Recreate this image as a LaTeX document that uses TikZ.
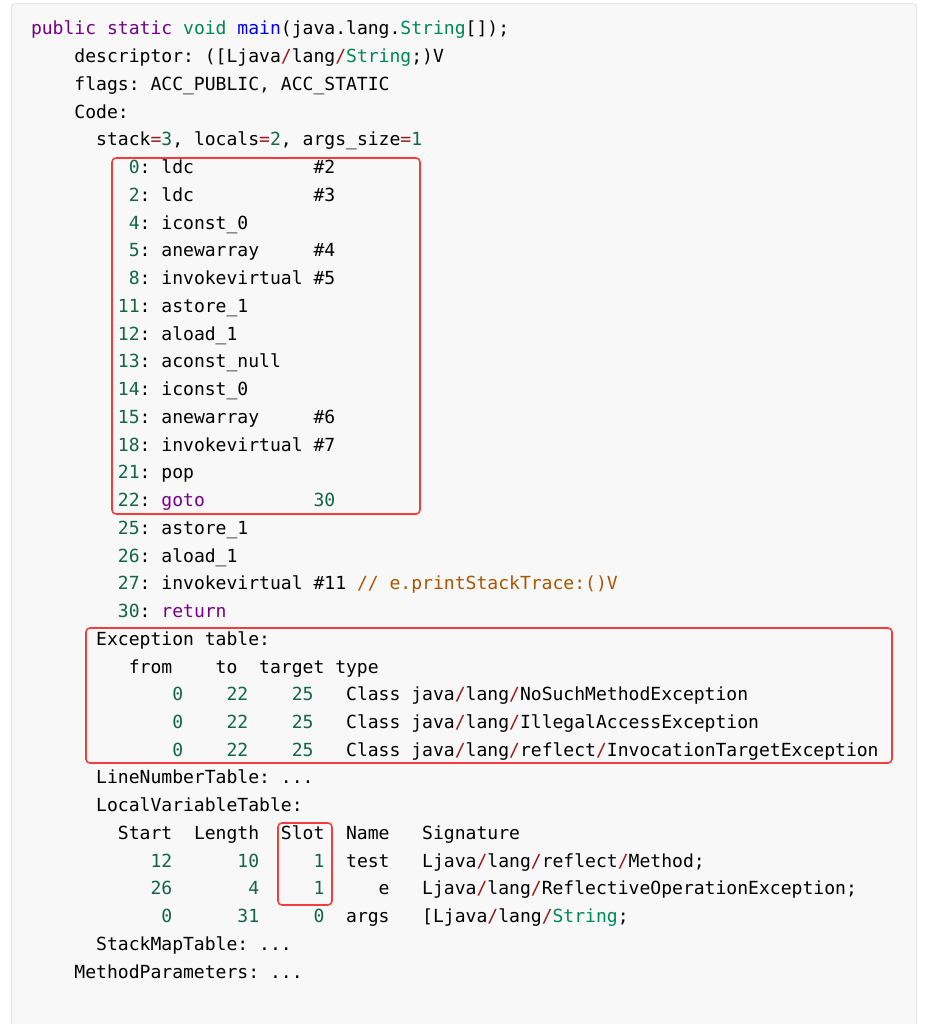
\documentclass[tikz,border=0pt]{standalone}
\usepackage{fontspec}
\setmonofont{DejaVu Sans Mono}
\definecolor{kwc}{HTML}{770088}
\definecolor{tyc}{HTML}{008855}
\definecolor{dfc}{HTML}{0000FF}
\definecolor{nmc}{HTML}{116644}
\definecolor{opc}{HTML}{981A1A}
\definecolor{cmc}{HTML}{AA5500}
\definecolor{panelfill}{HTML}{F8F8F8}
\definecolor{paneledge}{HTML}{E5E8EB}
\definecolor{markred}{HTML}{F53B3B}
\newcommand\cKw[1]{\textcolor{kwc}{#1}}
\newcommand\cTy[1]{\textcolor{tyc}{#1}}
\newcommand\cDf[1]{\textcolor{dfc}{#1}}
\newcommand\cNm[1]{\textcolor{nmc}{#1}}
\newcommand\cOp[1]{\textcolor{opc}{#1}}
\newcommand\cCm[1]{\textcolor{cmc}{#1}}
\newcommand\cSl{\cOp{/}}
\newcommand\codeline[3]{\node[code] (L#1) at ({31+10.867*#2},{35+27.74*#1}) {#3};}
\tikzset{
  code/.style={anchor=base west, inner sep=0pt, outer sep=0pt, text=black,
    font=\ttfamily\fontsize{18.05}{18.05}\selectfont},
  panel/.style={fill=panelfill, draw=paneledge, line width=1pt, rounded corners=4pt},
  redbox/.style={draw=markred, line width=1.6pt, rounded corners=4pt}
}
\begin{document}
\begin{tikzpicture}[x=1pt,y=-1pt]
\useasboundingbox (0,0) rectangle (926,1024);
\fill[white] (0,0) rectangle (926,1024);
\path[panel] (11.5,3.5) rectangle (916.5,1040);
% header
\codeline{0}{0}{\cKw{public static} \cTy{void} \cDf{main}(java.lang.\cTy{String}[]);}
\codeline{1}{4}{descriptor: ([Ljava\cSl lang\cSl\cTy{String};)V}
\codeline{2}{4}{flags: ACC\_PUBLIC, ACC\_STATIC}
\codeline{3}{4}{Code:}
\codeline{4}{6}{stack\cOp{=}\cNm{3}, locals\cOp{=}\cNm{2}, args\_size\cOp{=}\cNm{1}}
% instructions
\codeline{5}{9}{\cNm{0}: ldc~~~~~~~~~~~\#2}
\codeline{6}{9}{\cNm{2}: ldc~~~~~~~~~~~\#3}
\codeline{7}{9}{\cNm{4}: iconst\_0}
\codeline{8}{9}{\cNm{5}: anewarray~~~~~\#4}
\codeline{9}{9}{\cNm{8}: invokevirtual \#5}
\codeline{10}{8}{\cNm{11}: astore\_1}
\codeline{11}{8}{\cNm{12}: aload\_1}
\codeline{12}{8}{\cNm{13}: aconst\_null}
\codeline{13}{8}{\cNm{14}: iconst\_0}
\codeline{14}{8}{\cNm{15}: anewarray~~~~~\#6}
\codeline{15}{8}{\cNm{18}: invokevirtual \#7}
\codeline{16}{8}{\cNm{21}: pop}
\codeline{17}{8}{\cNm{22}: \cKw{goto}~~~~~~~~~~\cNm{30}}
\codeline{18}{8}{\cNm{25}: astore\_1}
\codeline{19}{8}{\cNm{26}: aload\_1}
\codeline{20}{8}{\cNm{27}: invokevirtual \#11 \cCm{// e.printStackTrace:()V}}
\codeline{21}{8}{\cNm{30}: \cKw{return}}
% exception table
\codeline{22}{6}{Exception table:}
\codeline{23}{9}{from~~~~to~~target type}
\codeline{24}{13}{\cNm{0}~~~~\cNm{22}~~~~\cNm{25}~~~Class java\cSl lang\cSl NoSuchMethodException}
\codeline{25}{13}{\cNm{0}~~~~\cNm{22}~~~~\cNm{25}~~~Class java\cSl lang\cSl IllegalAccessException}
\codeline{26}{13}{\cNm{0}~~~~\cNm{22}~~~~\cNm{25}~~~Class java\cSl lang\cSl reflect\cSl InvocationTargetException}
\codeline{27}{6}{LineNumberTable: ...}
\codeline{28}{6}{LocalVariableTable:}
\codeline{29}{8}{Start~~Length~~Slot~~Name~~~Signature}
\codeline{30}{11}{\cNm{12}~~~~~~\cNm{10}~~~~~\cNm{1}~~test~~~Ljava\cSl lang\cSl reflect\cSl Method;}
\codeline{31}{11}{\cNm{26}~~~~~~~\cNm{4}~~~~~\cNm{1}~~~~~e~~~Ljava\cSl lang\cSl ReflectiveOperationException;}
\codeline{32}{12}{\cNm{0}~~~~~~\cNm{31}~~~~~\cNm{0}~~args~~~[Ljava\cSl lang\cSl\cTy{String};}
\codeline{33}{6}{StackMapTable: ...}
\codeline{34}{4}{MethodParameters: ...}
% highlight boxes
\draw[redbox] (112,158) rectangle (420,514);
\draw[redbox] (86,628) rectangle (892,763);
\draw[redbox] (278,823) rectangle (332,905);
\end{tikzpicture}
\end{document}
